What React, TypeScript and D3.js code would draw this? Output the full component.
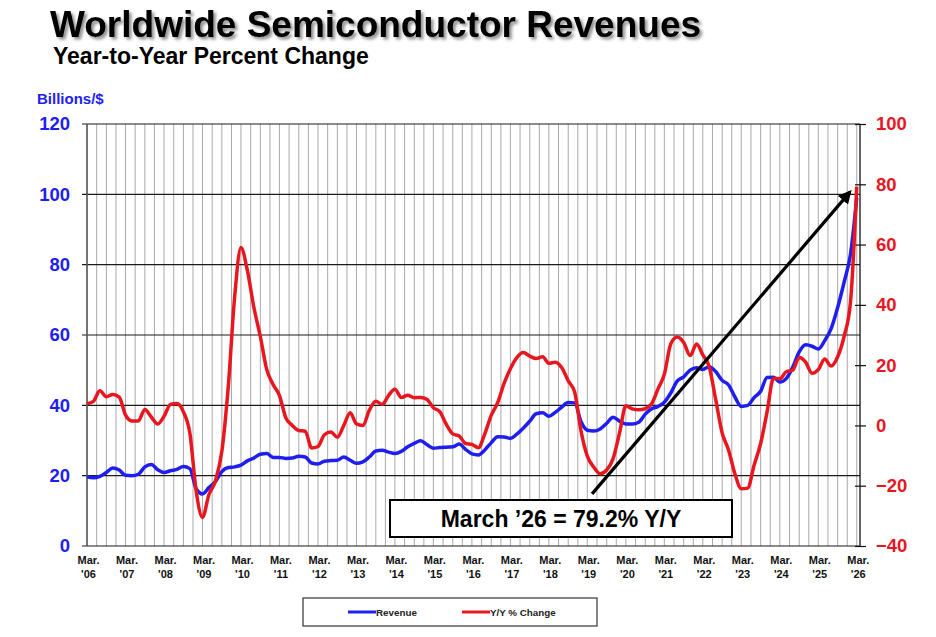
import React, { useEffect, useRef } from 'react';
import * as d3 from 'd3';

// Series run every other month starting at March 2006
const startMonth = new Date(2006, 2, 1);
const stepMonths = 2;

// Revenue, billions of dollars (Mar, May, Jul, Sep, Nov, Jan per row)
const revenue = [
  19.7, 19.4, 19.8, 20.9, 22.2, 21.6,
  20.1, 20.0, 20.4, 22.5, 23.2, 21.7,
  20.9, 21.4, 21.8, 22.6, 22.0, 16.2,
  14.8, 16.6, 18.3, 21.2, 22.3, 22.5,
  23.0, 24.2, 25.0, 26.1, 26.3, 25.2,
  25.2, 24.9, 25.0, 25.5, 25.3, 23.6,
  23.3, 24.1, 24.3, 24.4, 25.3, 24.4,
  23.5, 23.9, 25.3, 27.0, 27.2, 26.7,
  26.3, 26.9, 28.2, 29.2, 29.9, 28.8,
  27.8, 28.0, 28.1, 28.2, 29.0, 27.5,
  26.2, 25.9, 27.3, 29.4, 31.1, 31.0,
  30.6, 31.8, 33.5, 35.5, 37.6, 37.9,
  36.9, 38.0, 39.5, 40.8, 40.7, 35.3,
  32.9, 32.7, 33.3, 34.9, 36.6, 35.5,
  34.7, 34.7, 35.2, 37.5, 39.0, 39.7,
  40.9, 43.5, 46.9, 48.1, 50.0, 50.7,
  50.2, 51.0, 49.6, 47.1, 45.8, 42.3,
  39.7, 40.0, 42.2, 44.0, 47.9, 48.0,
  46.6, 47.6, 50.8, 55.2, 57.2, 56.8,
  56.0, 58.4, 61.8, 67.8, 75.0, 83.0,
  99.0,
];

// Year-to-year percent change, same months
const yoyChange = [
  7.2, 8.0, 11.5, 9.5, 10.3, 9.4,
  3.5, 1.5, 1.5, 5.3, 2.8, 0.5,
  3.0, 7.0, 7.3, 4.5, -2.5, -22.0,
  -30.5, -23.0, -18.5, -8.5, 13.0, 43.0,
  59.0, 51.4, 39.3, 29.5, 18.5, 13.5,
  10.0, 2.5, 0.0, -1.7, -1.9, -7.5,
  -7.0, -3.1, -2.2, -3.9, 0.0, 4.2,
  0.5, 0.0, 5.0, 8.0, 7.0, 10.0,
  12.0, 9.3, 10.0, 9.2, 9.3, 8.6,
  5.9, 4.6, 0.4, -2.8, -3.5, -6.0,
  -6.3, -7.4, -2.8, 3.4, 7.6, 14.0,
  18.8, 22.5, 24.2, 23.0, 22.2, 22.8,
  20.6, 21.0, 19.2, 14.8, 11.1, -2.0,
  -10.2, -13.8, -16.0, -14.8, -11.0, -2.5,
  6.5, 5.5, 5.2, 5.6, 7.2, 12.2,
  17.0, 27.0, 29.3, 27.5, 23.2, 27.0,
  23.4, 19.5, 8.7, -2.5, -8.2, -16.2,
  -21.0, -20.8, -13.2, -6.0, 4.5, 15.6,
  15.5, 17.8, 18.3, 22.5, 21.0, 17.3,
  18.5, 22.0, 19.7, 22.8, 29.5, 41.0,
  79.2,
];

const yearLabels = [
  "'06", "'07", "'08", "'09", "'10", "'11", "'12", "'13", "'14", "'15", "'16",
  "'17", "'18", "'19", "'20", "'21", "'22", "'23", "'24", "'25", "'26",
];
const revenueTicks = [0, 20, 40, 60, 80, 100, 120];
const changeTicks = [-40, -20, 0, 20, 40, 60, 80, 100];

// callout arrow, in chart units
const arrowFrom = { date: new Date(2019, 3, 15), pct: -22.7 };
const arrowTo = { date: new Date(2025, 11, 26), pct: 77.4 };
const calloutText = 'March \u201926 = 79.2% Y/Y';

const W = 936;
const H = 637;
const plot = { left: 87, right: 860, top: 124, bottom: 546 };

const BLUE = '#1e1ef0';
const RED = '#e8161f';
const FONT = '"Liberation Sans", Arial, Helvetica, sans-serif';

export default function App() {
  const svgRef = useRef<SVGSVGElement>(null);

  useEffect(() => {
    if (!svgRef.current) return;
    const svg = d3.select(svgRef.current);
    svg.selectAll('*').remove();

    const dates = revenue.map((_, i) => d3.timeMonth.offset(startMonth, i * stepMonths));
    const endMonth = d3.timeMonth.offset(startMonth, 241);

    const x = d3.scaleTime().domain([startMonth, endMonth]).range([plot.left, plot.right]);
    const yRev = d3.scaleLinear().domain([0, 120]).range([plot.bottom, plot.top]);
    const yPct = d3.scaleLinear().domain([-40, 100]).range([plot.bottom, plot.top]);

    const defs = svg.append('defs');
    const shadow = defs.append('filter').attr('id', 'title-shadow')
      .attr('x', '-5%').attr('y', '-20%').attr('width', '110%').attr('height', '150%');
    shadow.append('feDropShadow')
      .attr('dx', 2.5).attr('dy', 2.5).attr('stdDeviation', 1.6)
      .attr('flood-color', '#000').attr('flood-opacity', 0.45);

    defs.append('marker')
      .attr('id', 'arrow-head')
      .attr('viewBox', '0 0 10 10')
      .attr('refX', 8).attr('refY', 5)
      .attr('markerWidth', 4.2).attr('markerHeight', 4.2)
      .attr('markerUnits', 'strokeWidth')
      .attr('orient', 'auto')
      .append('path').attr('d', 'M0,0 L10,5 L0,10 z').attr('fill', '#000');

    // Titles
    svg.append('text')
      .attr('x', 50).attr('y', 36.5)
      .attr('font-family', FONT).attr('font-weight', 'bold').attr('font-size', 37)
      .attr('fill', '#000').attr('filter', 'url(#title-shadow)')
      .text('Worldwide Semiconductor Revenues');
    svg.append('text')
      .attr('x', 53).attr('y', 64)
      .attr('font-family', FONT).attr('font-weight', 'bold').attr('font-size', 23)
      .attr('fill', '#000')
      .text('Year-to-Year Percent Change');
    svg.append('text')
      .attr('x', 37).attr('y', 103.5)
      .attr('font-family', FONT).attr('font-weight', 'bold').attr('font-size', 15)
      .attr('fill', BLUE)
      .text('Billions/$');

    // Quarterly vertical grid
    const quarters = d3.range(0, 241, 3).map(m => d3.timeMonth.offset(startMonth, m));
    svg.append('g')
      .selectAll('line')
      .data(quarters)
      .join('line')
        .attr('x1', d => x(d)).attr('x2', d => x(d))
        .attr('y1', plot.top).attr('y2', plot.bottom)
        .attr('stroke', '#a9a9a9').attr('stroke-width', 1);

    // Horizontal grid on the revenue ticks
    svg.append('g')
      .selectAll('line')
      .data(revenueTicks)
      .join('line')
        .attr('x1', plot.left - 5).attr('x2', plot.right)
        .attr('y1', d => yRev(d)).attr('y2', d => yRev(d))
        .attr('stroke', '#1a1a1a').attr('stroke-width', 1.2);

    // Frame sides
    svg.append('line')
      .attr('x1', plot.left).attr('x2', plot.left)
      .attr('y1', plot.top).attr('y2', plot.bottom)
      .attr('stroke', '#555').attr('stroke-width', 1.5);
    svg.append('line')
      .attr('x1', plot.right).attr('x2', plot.right)
      .attr('y1', plot.top).attr('y2', plot.bottom)
      .attr('stroke', '#111').attr('stroke-width', 1.3);

    // Left axis (revenue)
    const leftAxis = svg.append('g')
      .attr('transform', `translate(${plot.left},0)`)
      .call(d3.axisLeft(yRev).tickValues(revenueTicks).tickSize(0).tickPadding(17));
    leftAxis.select('.domain').remove();
    leftAxis.selectAll('text')
      .attr('font-family', FONT).attr('font-weight', 'bold').attr('font-size', 18.5)
      .attr('fill', BLUE);

    // Right axis (percent change)
    const rightAxis = svg.append('g')
      .attr('transform', `translate(${plot.right},0)`)
      .call(d3.axisRight(yPct).tickValues(changeTicks).tickSize(6).tickPadding(10));
    rightAxis.select('.domain').remove();
    rightAxis.selectAll('.tick line').attr('x1', -5).attr('stroke', '#111').attr('stroke-width', 1.2);
    rightAxis.selectAll('text')
      .attr('font-family', FONT).attr('font-weight', 'bold').attr('font-size', 18.5)
      .attr('fill', RED);

    // Year labels
    const years = yearLabels.map((label, k) => ({ label, date: d3.timeMonth.offset(startMonth, k * 12) }));
    const yearG = svg.append('g')
      .attr('font-family', FONT).attr('font-weight', 'bold').attr('font-size', 11)
      .attr('fill', '#111').attr('text-anchor', 'middle');
    yearG.selectAll('text.mon')
      .data(years)
      .join('text')
        .attr('class', 'mon')
        .attr('x', d => x(d.date) + 1.5).attr('y', 564)
        .text('Mar.');
    yearG.selectAll('text.yr')
      .data(years)
      .join('text')
        .attr('class', 'yr')
        .attr('x', d => x(d.date) + 1.5).attr('y', 578)
        .text(d => d.label);

    // Series
    const revLine = d3.line<number>()
      .x((_, i) => x(dates[i]))
      .y(d => yRev(d))
      .curve(d3.curveMonotoneX);
    const pctLine = d3.line<number>()
      .x((_, i) => x(dates[i]))
      .y(d => yPct(d))
      .curve(d3.curveMonotoneX);

    svg.append('path')
      .datum(revenue)
      .attr('d', revLine)
      .attr('fill', 'none').attr('stroke', BLUE).attr('stroke-width', 3.5)
      .attr('stroke-linejoin', 'round');
    svg.append('path')
      .datum(yoyChange)
      .attr('d', pctLine)
      .attr('fill', 'none').attr('stroke', RED).attr('stroke-width', 3.5)
      .attr('stroke-linejoin', 'round');

    // Callout arrow
    svg.append('line')
      .attr('x1', x(arrowFrom.date)).attr('y1', yPct(arrowFrom.pct))
      .attr('x2', x(arrowTo.date)).attr('y2', yPct(arrowTo.pct))
      .attr('stroke', '#000').attr('stroke-width', 3.2)
      .attr('marker-end', 'url(#arrow-head)');

    // Callout box
    svg.append('rect')
      .attr('x', 390).attr('y', 500).attr('width', 342).attr('height', 37)
      .attr('fill', '#fff').attr('stroke', '#000').attr('stroke-width', 2);
    svg.append('text')
      .attr('x', 561).attr('y', 527)
      .attr('text-anchor', 'middle')
      .attr('font-family', FONT).attr('font-weight', 'bold').attr('font-size', 23)
      .attr('fill', '#000')
      .text(calloutText);

    // Legend
    const legend = svg.append('g');
    legend.append('rect')
      .attr('x', 303).attr('y', 598).attr('width', 294).attr('height', 28)
      .attr('fill', '#fff').attr('stroke', '#333').attr('stroke-width', 1.2);
    const items = [
      { label: 'Revenue', color: BLUE, x0: 348 },
      { label: 'Y/Y % Change', color: RED, x0: 462 },
    ];
    items.forEach(item => {
      legend.append('line')
        .attr('x1', item.x0).attr('x2', item.x0 + 28)
        .attr('y1', 612).attr('y2', 612)
        .attr('stroke', item.color).attr('stroke-width', 3);
      legend.append('text')
        .attr('x', item.x0 + 28).attr('y', 615.5)
        .attr('font-family', FONT).attr('font-weight', 'bold').attr('font-size', 9.8)
        .attr('fill', '#222')
        .text(item.label);
    });
  }, []);

  return (
    <div style={{ position: 'absolute', left: 0, top: 0, width: W, height: H, background: '#fff' }}>
      <svg ref={svgRef} width={W} height={H} style={{ display: 'block' }} />
    </div>
  );
}
